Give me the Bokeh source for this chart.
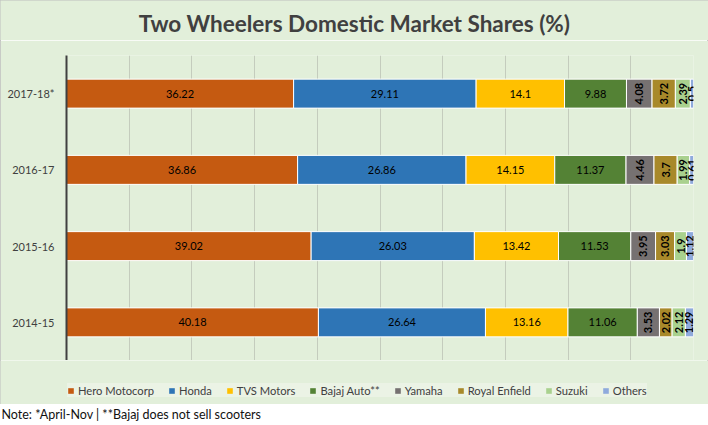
import numpy as np
from bokeh.plotting import figure
from bokeh.models import (ColumnDataSource, FactorRange, Range1d, Legend, LegendItem,
                          Label, FixedTicker)
from bokeh.layouts import column
from bokeh.embed import file_html
from bokeh.resources import INLINE
from bokeh.core.properties import value

# ---------------- data ----------------
years = ["2014-15", "2015-16", "2016-17", "2017-18*"]
brands = ["Hero Motocorp", "Honda", "TVS Motors", "Bajaj Auto**",
          "Yamaha", "Royal Enfield", "Suzuki", "Others"]
hero = [40.18, 39.02, 36.86, 36.22]
honda = [26.64, 26.03, 26.86, 29.11]
tvs = [13.16, 13.42, 14.15, 14.1]
bajaj = [11.06, 11.53, 11.37, 9.88]
yamaha = [3.53, 3.95, 4.46, 4.08]
royal_enfield = [2.02, 3.03, 3.7, 3.72]
suzuki = [2.12, 1.9, 1.99, 2.39]
others = [1.29, 1.12, 0.61, 0.5]
series = [hero, honda, tvs, bajaj, yamaha, royal_enfield, suzuki, others]
colors = ["#C55A11", "#2E75B6", "#FFC000", "#548235",
          "#767171", "#A8892A", "#A9D18E", "#8FAADC"]
rotated = [False, False, False, False, True, True, True, True]

title_text = "Two Wheelers Domestic Market Shares (%)"
note_text = "Note: *April-Nov |  **Bajaj does not sell scooters"

BG = "#E2EFDA"
FONT = "Lato"
W = 708


def strip(height, bg):
    f = figure(width=W, height=height, x_range=Range1d(0, W), y_range=Range1d(0, height),
               min_border=0, output_backend="svg", toolbar_location=None)
    f.axis.visible = False
    f.grid.visible = False
    f.outline_line_color = None
    f.background_fill_color = bg
    f.border_fill_color = bg
    return f


# ---------------- title strip ----------------
t = strip(40, BG)
t.add_layout(Label(x=354, y=17, text=title_text, text_align="center", text_baseline="middle",
                   text_font=FONT, text_font_size="22.5px", text_font_style="bold",
                   text_color="#404040"))

# ---------------- main chart ----------------
p = figure(y_range=FactorRange(factors=years), x_range=Range1d(0, 100),
           frame_width=627, frame_height=305,
           min_border_left=66, min_border_right=15, min_border_top=15, min_border_bottom=0,
           output_backend="svg", toolbar_location=None)
p.background_fill_color = BG
p.border_fill_color = BG
p.outline_line_color = None

hl_x, hl_y, hl_t = [], [], []
rl_x, rl_y, rl_t = [], [], []
left = np.zeros(len(years))
for name, vals, col, rot in zip(brands, series, colors, rotated):
    vals = np.array(vals, dtype=float)
    src = ColumnDataSource(dict(y=years, left=left.copy(), right=left + vals))
    p.hbar(y="y", left="left", right="right", height=0.38, source=src,
           fill_color=col, line_color="white", line_width=1)
    for i, v in enumerate(vals):
        cx = left[i] + v / 2
        lab = "%g" % v
        if rot:
            rl_x.append(cx); rl_y.append(years[i]); rl_t.append(lab)
        else:
            hl_x.append(cx); hl_y.append(years[i]); hl_t.append(lab)
    left = left + vals

p.text(x="x", y="y", text="t", source=ColumnDataSource(dict(x=hl_x, y=hl_y, t=hl_t)),
       text_align="center", text_baseline="middle", text_color="#000000",
       text_font=value(FONT), text_font_size=value("11px"))
p.text(x="x", y="y", text="t", source=ColumnDataSource(dict(x=rl_x, y=rl_y, t=rl_t)),
       text_align="center", text_baseline="middle", text_color="#000000", angle=np.pi / 2,
       text_font=value(FONT), text_font_size=value("11px"), text_font_style="bold")

p.xaxis.visible = False
p.xgrid.ticker = FixedTicker(ticks=list(range(0, 101, 10)))
p.xgrid.grid_line_color = "#C4CCBD"
p.xgrid.grid_line_width = 1
p.ygrid.grid_line_color = None

p.yaxis.axis_line_color = "#404040"
p.yaxis.axis_line_width = 2
p.yaxis.major_tick_line_color = None
p.yaxis.minor_tick_line_color = None
p.yaxis.major_label_standoff = 6
p.yaxis.major_label_text_font = FONT
p.yaxis.major_label_text_font_size = "11px"
p.yaxis.major_label_text_color = "#404040"

# ---------------- legend strip ----------------
lg = strip(44, BG)
items = []
for name, col in zip(brands, colors):
    # swatch renderer kept outside the visible range; only its legend glyph shows
    r = lg.hbar(y=[-100], left=[0], right=[1], height=1, fill_color=col, line_color=None)
    items.append(LegendItem(label=name, renderers=[r]))
legend = Legend(items=items, orientation="horizontal", location=(67, 7),
                glyph_width=7, glyph_height=7, label_standoff=4, spacing=14,
                padding=5, margin=0, label_height=14,
                label_text_font=FONT, label_text_font_size="11.2px",
                label_text_color="#404040",
                background_fill_color="#EBF3E5", background_fill_alpha=1,
                border_line_color=None)
lg.add_layout(legend, "center")

# ---------------- note strip ----------------
n = strip(19, "white")
n.add_layout(Label(x=1, y=9, text=note_text, text_baseline="middle",
                   text_font=FONT, text_font_size="12.5px", text_color="#111111"))

chart = column(column(t), p, column(lg), spacing=0)
chart.styles = {"outline": "1px solid #BFBFBF", "outline-offset": "-1px"}
layout = column(chart, n, spacing=0)
open("out.html", "w").write(file_html(layout, INLINE))
